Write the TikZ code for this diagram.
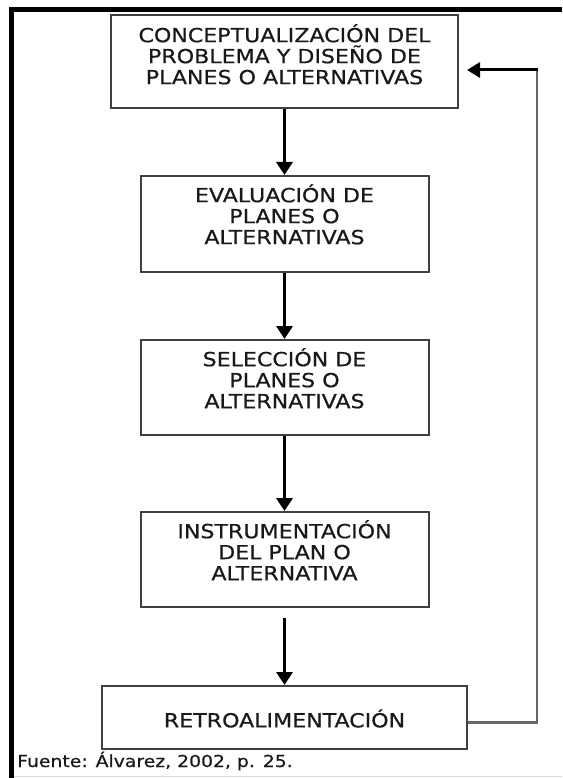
\documentclass[tikz,border=0pt]{standalone}
\usepackage{fontspec}
\setmainfont{DejaVu Sans}[FakeStretch=1.14, FakeBold=0.6]
\usetikzlibrary{arrows.meta}
\begin{document}
\begin{tikzpicture}[x=1pt,y=-1pt,
  stage/.style={draw=black!75, line width=2pt, rectangle, inner sep=0pt},
  stagetext/.style={anchor=north, align=center, inner sep=0pt, text=black!90,
    font=\fontsize{19.4}{21}\selectfont},
  flow/.style={draw=black, line width=3.8pt, -{Triangle[length=13pt,width=16pt]}},
  backline/.style={draw=black!60, line width=2.2pt},
  backarrow/.style={draw=black, line width=3pt, -{Triangle[length=13pt,width=15pt]}}]
\useasboundingbox (0,0) rectangle (562,778);

% frame around the figure
\draw[line width=5pt, line join=miter] (11.5,778) -- (11.5,9.5) -- (562,9.5);
\draw[black!15, line width=1.5pt] (14,776.5) -- (562,776.5);

% stages of the process
\node[stage, minimum width=347pt, minimum height=93pt] (b1) at (284.5,61.5) {};
\node[stage, minimum width=288pt, minimum height=96pt] (b2) at (284.5,224) {};
\node[stage, minimum width=288pt, minimum height=95pt] (b3) at (284.5,387.5) {};
\node[stage, minimum width=288pt, minimum height=95pt] (b4) at (284.5,559.5) {};
\node[stage, minimum width=365pt, minimum height=63pt] (b5) at (284.5,717.5) {};

\node[stagetext] (t1) at ([yshift=-10pt]b1.north)
  {CONCEPTUALIZACIÓN DEL\\PROBLEMA Y DISEÑO DE\\PLANES O ALTERNATIVAS};
\node[stagetext] (t2) at ([yshift=-9pt]b2.north)
  {EVALUACIÓN DE\\PLANES O\\ALTERNATIVAS};
\node[stagetext] (t3) at ([yshift=-9pt]b3.north)
  {SELECCIÓN DE\\PLANES O\\ALTERNATIVAS};
\node[stagetext] (t4) at ([yshift=-9pt]b4.north)
  {INSTRUMENTACIÓN\\DEL PLAN O\\ALTERNATIVA};
\node[stagetext, anchor=center] (t5) at ([yshift=-1pt]b5.center) {RETROALIMENTACIÓN};

% forward flow
\draw[flow] (b1.south) -- (b2.north);
\draw[flow] (b2.south) -- (b3.north);
\draw[flow] (b3.south) -- (b4.north);
\draw[flow] ([yshift=-10pt]b4.south) -- (b5.north);

% feedback loop
\coordinate (fbc) at (537,70);
\coordinate (fbt) at (467,70);
\draw[backline] ([yshift=-5pt]b5.east) -| (fbc);
\draw[backarrow] ([xshift=1.1pt]fbc) -- (fbt);

% source note
\node[anchor=base west, inner sep=0pt, text=black!90,
  font=\fontsize{16.5}{18}\selectfont] (src) at (17,767) {Fuente: Álvarez, 2002, p. 25.};
\end{tikzpicture}
\end{document}
